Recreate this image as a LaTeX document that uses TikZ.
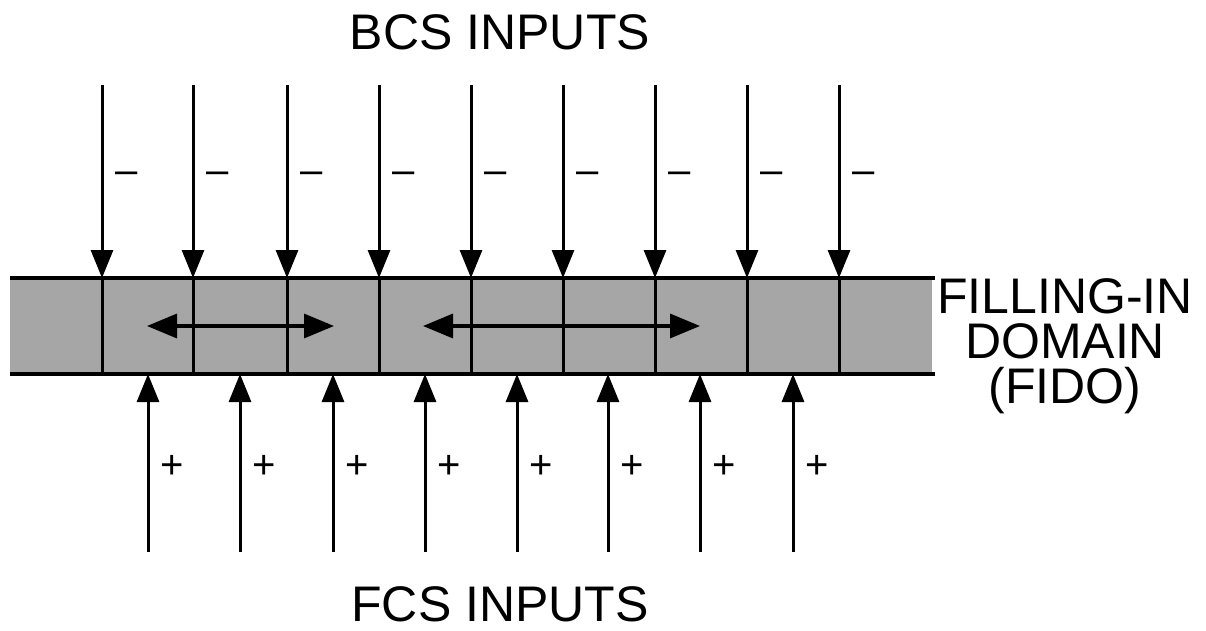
\documentclass[tikz,border=0pt]{standalone}
\usepackage{fontspec}
\setmainfont{Liberation Sans}
\usetikzlibrary{arrows.meta}
\begin{document}
\begin{tikzpicture}[x=1pt,y=-1pt,
  inarrow/.style={line width=3pt,-{Triangle[length=28pt,width=22pt]}},
  spread/.style={line width=3.4pt,{Triangle[length=30pt,width=24pt]}-{Triangle[length=30pt,width=24pt]}},
  divider/.style={line width=3pt},
  edge/.style={line width=3.4pt},
  sign/.style={font=\fontsize{40}{40}\selectfont,inner sep=0pt},
  title/.style={font=\fontsize{50}{45}\selectfont,inner sep=0pt,align=center}]
\useasboundingbox (0,0) rectangle (1206,631);
% band
\fill[black!35] (10,278) rectangle (932,374);
\coordinate (bandTL) at (10,278);
\coordinate (bandTR) at (935,278);
\coordinate (bandBL) at (10,374);
\coordinate (bandBR) at (935,374);
% dividers and BCS (down) arrows
\foreach \i/\x in {1/102,2/193,3/287,4/379,5/471,6/563,7/655,8/747,9/839}{
  \coordinate (dtop\i) at (\x,85);
  \coordinate (dtip\i) at (\x,278);
  \coordinate (dbot\i) at (\x,374);
  \draw[divider] (dtip\i) -- (dbot\i);
  \draw[inarrow] (dtop\i) -- (dtip\i);
  \node[sign] (minus\i) at (\x+25,178) {–};
}
% FCS (up) arrows
\foreach \i/\x in {1/148,2/240,3/333,4/425,5/517,6/608,7/700,8/793}{
  \coordinate (ubot\i) at (\x,552);
  \coordinate (utip\i) at (\x,374);
  \draw[inarrow] (ubot\i) -- (utip\i);
  \node[sign] (plus\i) at (\x+24,467) {+};
}
\draw[edge] (bandTL) -- (bandTR);
\draw[edge] (bandBL) -- (bandBR);
% lateral spreading arrows
\coordinate (s1a) at (147,326);
\coordinate (s1b) at (334,326);
\coordinate (s2a) at (423,326);
\coordinate (s2b) at (700,326);
\draw[spread] (s1a) -- (s1b);
\draw[spread] (s2a) -- (s2b);
% labels
\node[title] (bcs) at (500,32) {BCS INPUTS};
\node[title] (fcs) at (500,604) {FCS INPUTS};
\node[title] (fido) at (1065,346) {FILLING-IN\\DOMAIN\\(FIDO)};
\end{tikzpicture}
\end{document}
